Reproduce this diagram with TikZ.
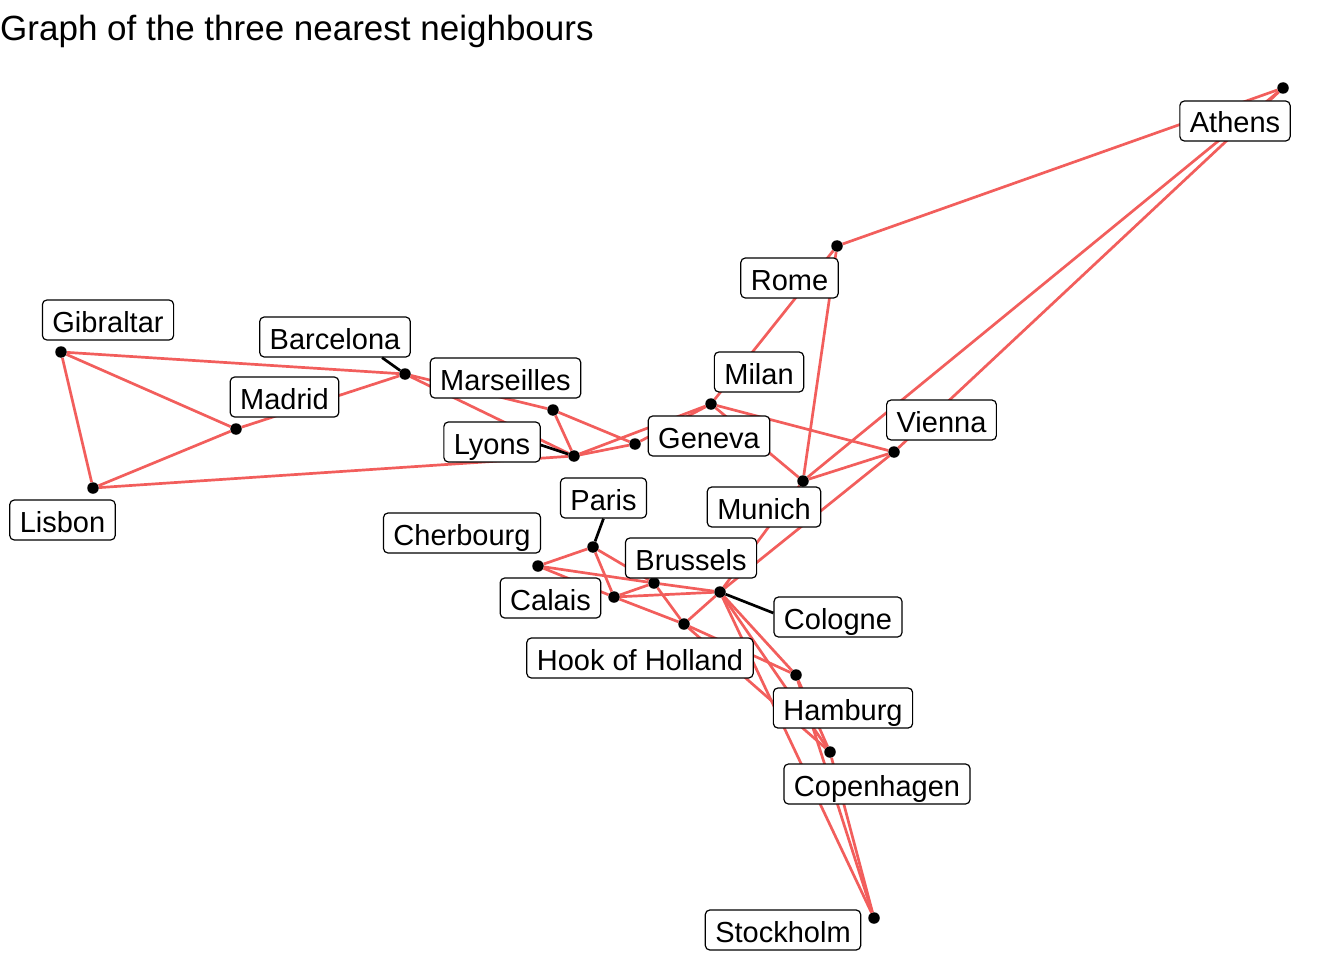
\documentclass[tikz,border=0pt]{standalone}
\usepackage{fontspec}
\setmainfont{Liberation Sans}
\usetikzlibrary{calc}
\definecolor{edgered}{RGB}{242,94,92}
\begin{document}
\begin{tikzpicture}[x=1pt,y=-1pt,
  dot/.style={circle,fill=black,inner sep=0pt,minimum size=11.5pt},
  lbl/.style={draw=black,line width=1.2pt,fill=white,rounded corners=4.5pt,
    font=\fontsize{29}{34}\selectfont,inner xsep=10pt,inner ysep=3pt,
    text height=29pt,text depth=5pt},
  edge/.style={draw=edgered,line width=2.7pt},
  leader/.style={draw=black,line width=2.7pt}]
\useasboundingbox (0,0) rectangle (1344,960);

% title
\node[anchor=base west,inner sep=0pt,font=\fontsize{35}{42}\selectfont] (title) at (0,41) {Graph of the three nearest neighbours};

% points
\node[dot] (ath) at (1283,88) {};
\node[dot] (rom) at (837,246) {};
\node[dot] (gib) at (61,352) {};
\node[dot] (lis) at (93,488) {};
\node[dot] (mad) at (236,429) {};
\node[dot] (bar) at (405,374) {};
\node[dot] (mar) at (553,410) {};
\node[dot] (lyo) at (574,456) {};
\node[dot] (gen) at (635,444) {};
\node[dot] (mil) at (711,404) {};
\node[dot] (mun) at (803,481) {};
\node[dot] (vie) at (894,452) {};
\node[dot] (par) at (593,547) {};
\node[dot] (che) at (538,566) {};
\node[dot] (cal) at (614,597) {};
\node[dot] (bru) at (654,583) {};
\node[dot] (col) at (720,592) {};
\node[dot] (hoo) at (684,624) {};
\node[dot] (ham) at (796,675) {};
\node[dot] (cop) at (830,752) {};
\node[dot] (sto) at (874,918) {};

% edges of the three nearest neighbours graph
\foreach \a/\b in {ath/rom,ath/mun,ath/vie,rom/mun,rom/mil,
  gib/bar,gib/mad,gib/lis,lis/mad,lis/lyo,mad/bar,
  bar/mar,bar/lyo,mar/lyo,mar/gen,lyo/gen,lyo/mil,gen/mil,
  mil/mun,mil/vie,mun/vie,mun/col,vie/col,
  par/che,par/cal,par/bru,che/cal,che/bru,bru/col,cal/bru,cal/col,
  cal/hoo,bru/hoo,hoo/col,hoo/ham,hoo/cop,
  col/ham,col/cop,col/sto,ham/cop,ham/sto,cop/sto}
  \draw[edge] (\a) -- (\b);

% labels
\node[lbl] (athL) at (1235,121) {Athens};
\node[lbl] (romL) at (789.5,278) {Rome};
\node[lbl] (gibL) at (108,320) {Gibraltar};
\node[lbl] (barL) at (335,337) {Barcelona};
\node[lbl] (marL) at (505.5,378) {Marseilles};
\node[lbl] (madL) at (284.5,397) {Madrid};
\node[lbl] (milL) at (759,372) {Milan};
\node[lbl] (vieL) at (941.5,420) {Vienna};
\node[lbl] (genL) at (709,436) {Geneva};
\node[lbl] (lyoL) at (492,442) {Lyons};
\node[lbl] (lisL) at (62.5,520) {Lisbon};
\node[lbl] (parL) at (603.5,498) {Paris};
\node[lbl] (munL) at (764,507) {Munich};
\node[lbl] (cheL) at (462,533) {Cherbourg};
\node[lbl] (bruL) at (691,558) {Brussels};
\node[lbl] (calL) at (550.5,598) {Calais};
\node[lbl] (colL) at (838,617) {Cologne};
\node[lbl] (hooL) at (640,658) {Hook of Holland};
\node[lbl] (hamL) at (843,708) {Hamburg};
\node[lbl] (copL) at (877,784) {Copenhagen};
\node[lbl] (stoL) at (783,930) {Stockholm};

% leader segments
\draw[leader] (bar) -- ($(barL.south west)!0.81!(barL.south east)$);
\draw[leader] (lyo) -- ($(lyoL.east)+(0,3)$);
\draw[leader] (par) -- (parL.south);
\draw[leader] (col) -- ($(colL.west)+(0,-4)$);
\end{tikzpicture}
\end{document}
